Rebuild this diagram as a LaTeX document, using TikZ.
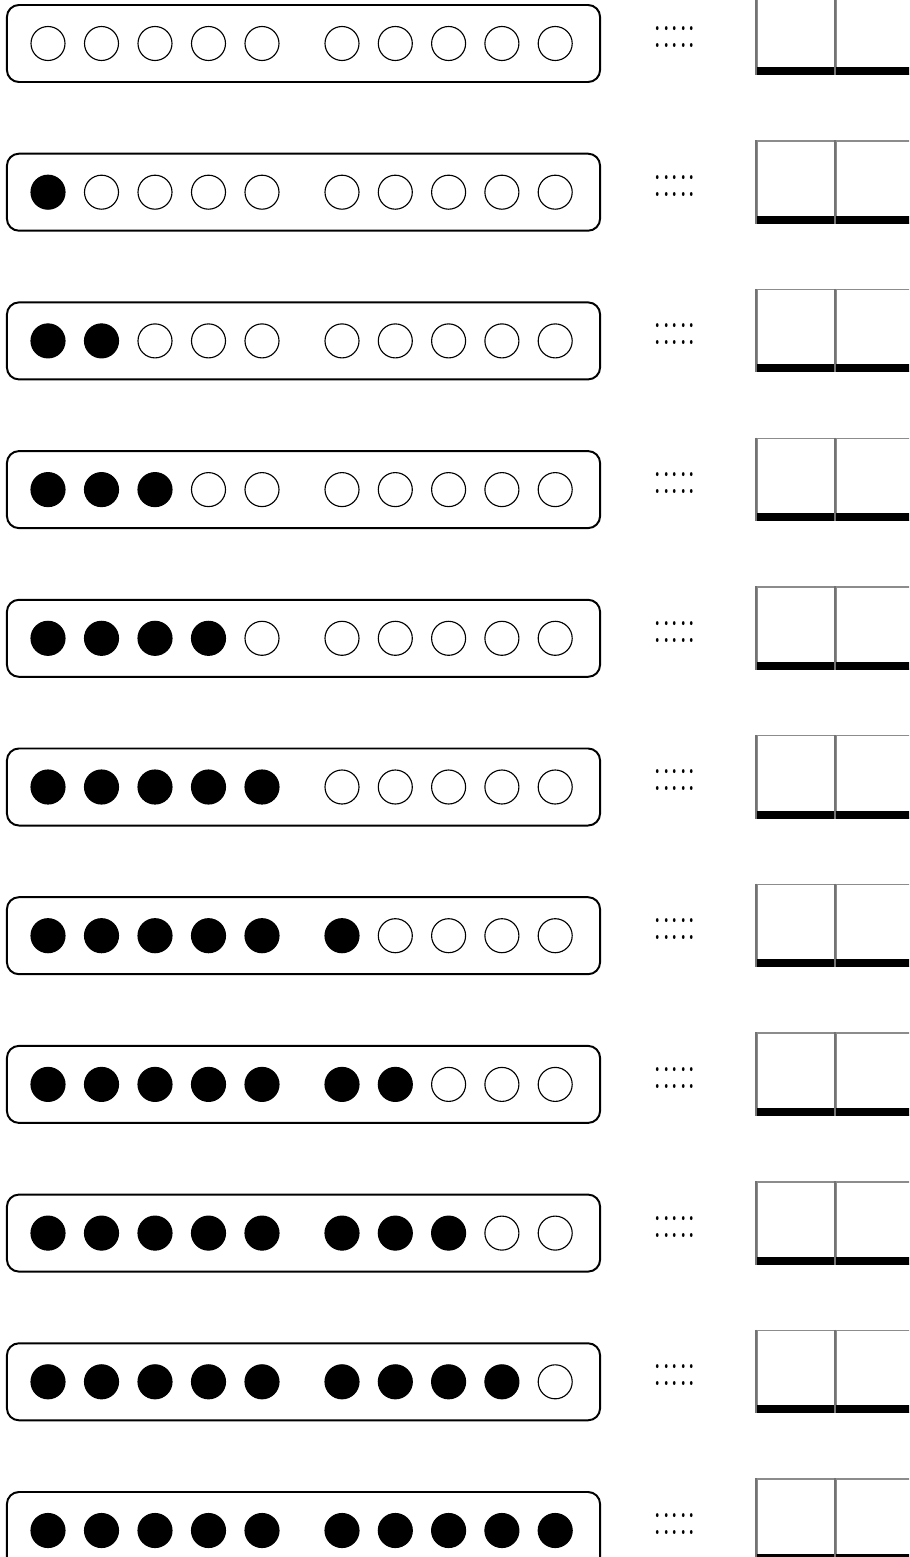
\documentclass[tikz,border=0pt]{standalone}
\usepackage{tikz}

\begin{document}
\begin{tikzpicture}[x=0.025cm,y=-0.025cm,
  frame/.style={draw,rounded corners=0.3cm,line width=1.4pt,inner sep=0pt,
                minimum width=14.825cm,minimum height=1.925cm},
  bead/.style={draw,circle,line width=0.8pt,inner sep=0pt,minimum size=0.85cm},
  full/.style={bead,fill=black},
  dots/.style={inner sep=0pt,font=\fontsize{24}{24}\selectfont},
  cell/.style={draw=black!45,line width=1.1pt,inner sep=0pt,anchor=south west,
               minimum width=1.975cm,minimum height=2.05cm},
  bar/.style={line width=0.2cm},
  edge/.style={draw=black!55,line width=1.1pt}]
\useasboundingbox (0,0) rectangle (909,1557);
\clip (0,0) rectangle (909,1557);
\foreach \r in {0,...,10}{
  \pgfmathsetmacro{\yy}{43.5+148.7*\r}
  \pgfmathsetmacro{\yb}{75+148.7*\r}
  \node[frame] (frame-\r) at (303.5,\yy) {};
  \foreach \k in {0,...,9}{
    \pgfmathsetmacro{\xx}{\k<5 ? 48+53.5*\k : 342+53.3*(\k-5)}
    \ifnum\k<\r
      \node[full] (bead-\r-\k) at (\xx,\yy) {};
    \else
      \node[bead] (bead-\r-\k) at (\xx,\yy) {};
    \fi
  }
  \node[dots] (dots-\r) at (675,\yy-6.5) {\scalebox{1}[1.44]{:::::}};
  \node[cell] (cell-\r-a) at (756,\yb) {};
  \node[cell] (cell-\r-b) at (835,\yb) {};
  \draw[bar] ([yshift=0.1cm]cell-\r-a.south west) -- ([yshift=0.1cm]cell-\r-b.south east);
  \draw[edge] (cell-\r-a.north west) -- (cell-\r-a.south west);
  \draw[edge] (cell-\r-b.north west) -- (cell-\r-b.south west);
}
\end{tikzpicture}
\end{document}
